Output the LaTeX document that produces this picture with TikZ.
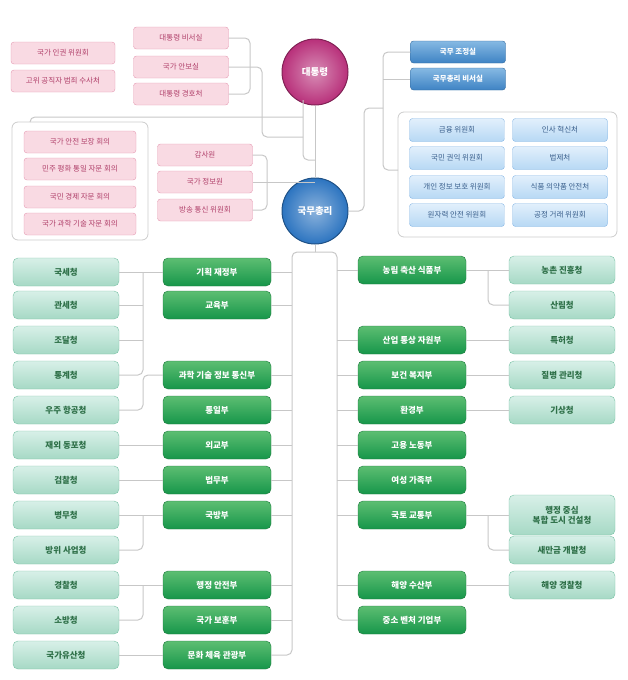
\documentclass[tikz,border=0pt]{standalone}
\usepackage{fontspec}
\setmainfont{Noto Sans CJK KR}
\usetikzlibrary{positioning}
\usetikzlibrary{calc}
\definecolor{pinkfill}{HTML}{F9DAE3}
\definecolor{pinkline}{HTML}{E49AB2}
\definecolor{pinktext}{HTML}{B0406A}
\definecolor{bluetop}{HTML}{86B9E3}
\definecolor{bluebot}{HTML}{3E83C4}
\definecolor{ltbluetop}{HTML}{E2F0FC}
\definecolor{ltbluebot}{HTML}{B7D8F4}
\definecolor{ltblueline}{HTML}{86B6E4}
\definecolor{bluetext}{HTML}{3A5F8C}
\definecolor{greentop}{HTML}{5DBE72}
\definecolor{greenbot}{HTML}{16964A}
\definecolor{greenline}{HTML}{1C7A3C}
\definecolor{mintop}{HTML}{D8F0E8}
\definecolor{minbot}{HTML}{A6D9C5}
\definecolor{minline}{HTML}{79C2A5}
\definecolor{mintext}{HTML}{2E7048}
\definecolor{presc}{HTML}{B8307A}
\definecolor{pmc}{HTML}{2C74C0}

\begin{document}
\begin{tikzpicture}[x=1pt, y=-1pt,
  font=\fontsize{7.5}{9}\selectfont,
  pinkbox/.style={draw=pinkline, fill=pinkfill, rounded corners=3pt, minimum width=95pt, minimum height=22pt, inner sep=1pt, text=pinktext},
  bluebox/.style={draw=bluebot!80!black, top color=bluetop, bottom color=bluebot, rounded corners=3pt, minimum width=95pt, minimum height=22pt, inner sep=1pt, text=white, font=\fontsize{7.5}{9}\selectfont\bfseries},
  ltbox/.style={draw=ltblueline, top color=ltbluetop, bottom color=ltbluebot, rounded corners=3pt, minimum width=95pt, minimum height=23pt, inner sep=1pt, text=bluetext},
  ministry/.style={draw=greenline, top color=greentop, bottom color=greenbot, rounded corners=5pt, minimum width=108pt, minimum height=28pt, inner sep=1pt, text=white, font=\fontsize{8.5}{10}\selectfont\bfseries},
  agency/.style={draw=minline, top color=mintop, bottom color=minbot, rounded corners=5pt, minimum width=106pt, minimum height=28pt, inner sep=1pt, align=center, text=mintext, font=\fontsize{8.5}{10}\selectfont\bfseries},
  chief/.style={circle, draw=#1!70!black, line width=1pt, minimum size=66pt, text=white, font=\fontsize{9.5}{11}\selectfont\bfseries, inner color=#1!55!white, outer color=#1},
  group/.style={draw=black!20, line width=0.8pt, rounded corners=6pt},
  link/.style={draw=black!22, line width=1pt, rounded corners=5pt}
]
\useasboundingbox (0,0) rectangle (628,680);

% heads
\node[chief=presc] (pres) at (315,72) {대통령};
\node[chief=pmc] (pm) at (315,211) {국무총리};

% office of the president
\node[pinkbox] (sec)  at (181,38) {대통령 비서실};
\node[pinkbox] (nsa)  at (181,67) {국가 안보실};
\node[pinkbox] (pss)  at (181,94) {대통령 경호처};
\node[pinkbox, minimum width=104pt] (hr)  at (63,53) {국가 인권 위원회};
\node[pinkbox, minimum width=104pt] (cio) at (63,81) {고위 공직자 범죄 수사처};

\draw[group] (12,122) rectangle (148,240);
\node[pinkbox, minimum width=112pt] (nsc) at (80,142) {국가 안전 보장 회의};
\node[pinkbox, minimum width=112pt] (puc) at (80,169) {민주 평화 통일 자문 회의};
\node[pinkbox, minimum width=112pt] (nec) at (80,197) {국민 경제 자문 회의};
\node[pinkbox, minimum width=112pt] (pst) at (80,224) {국가 과학 기술 자문 회의};

\node[pinkbox] (bai) at (205,155) {감사원};
\node[pinkbox] (nis) at (205,182) {국가 정보원};
\node[pinkbox] (kcc) at (205,210) {방송 통신 위원회};

% office of the prime minister
\node[bluebox] (opc) at (458,52) {국무 조정실};
\node[bluebox] (pms) at (458,79) {국무총리 비서실};
\draw[group] (398,112) rectangle (617,237);
\node[ltbox] (fsc) at (457,130) {금융 위원회};
\node[ltbox] (acr) at (457,158) {국민 권익 위원회};
\node[ltbox] (pip) at (457,187) {개인 정보 보호 위원회};
\node[ltbox] (nss) at (457,215) {원자력 안전 위원회};
\node[ltbox] (mpm) at (560,130) {인사 혁신처};
\node[ltbox] (mol) at (560,158) {법제처};
\node[ltbox] (mfd) at (560,187) {식품 의약품 안전처};
\node[ltbox] (ftc) at (560,215) {공정 거래 위원회};

% ministries, left
\node[ministry] (moef) at (217,272) {기획 재정부};
\node[ministry] (moe)  at (217,305) {교육부};
\node[ministry] (msit) at (217,375) {과학 기술 정보 통신부};
\node[ministry] (mou)  at (217,410) {통일부};
\node[ministry] (mofa) at (217,445) {외교부};
\node[ministry] (moj)  at (217,480) {법무부};
\node[ministry] (mnd)  at (217,515) {국방부};
\node[ministry] (mois) at (217,585) {행정 안전부};
\node[ministry] (mpva) at (217,620) {국가 보훈부};
\node[ministry] (mcst) at (217,655) {문화 체육 관광부};

% ministries, right
\node[ministry] (mafra) at (412,270) {농림 축산 식품부};
\node[ministry] (motie) at (412,340) {산업 통상 자원부};
\node[ministry] (mohw)  at (412,375) {보건 복지부};
\node[ministry] (me)    at (412,410) {환경부};
\node[ministry] (moel)  at (412,445) {고용 노동부};
\node[ministry] (mogef) at (412,480) {여성 가족부};
\node[ministry] (molit) at (412,515) {국토 교통부};
\node[ministry] (mof)   at (412,585) {해양 수산부};
\node[ministry] (mss)   at (412,620) {중소 벤처 기업부};

% agencies, left
\node[agency] (nts)  at (66,272) {국세청};
\node[agency] (kcs)  at (66,305) {관세청};
\node[agency] (pps)  at (66,340) {조달청};
\node[agency] (kos)  at (66,375) {통계청};
\node[agency] (kasa) at (66,410) {우주 항공청};
\node[agency] (oka)  at (66,445) {재외 동포청};
\node[agency] (spo)  at (66,480) {검찰청};
\node[agency] (mma)  at (66,515) {병무청};
\node[agency] (dapa) at (66,550) {방위 사업청};
\node[agency] (knpa) at (66,585) {경찰청};
\node[agency] (nfa)  at (66,620) {소방청};
\node[agency] (kha)  at (66,655) {국가유산청};

% agencies, right
\node[agency] (rda)  at (562,270) {농촌 진흥청};
\node[agency] (kfs)  at (562,305) {산림청};
\node[agency] (kipo) at (562,340) {특허청};
\node[agency] (kdca) at (562,375) {질병 관리청};
\node[agency] (kma)  at (562,410) {기상청};
\node[agency, minimum height=40pt] (naacc) at (562,515) {행정 중심\\복합 도시 건설청};
\node[agency] (sda)  at (562,550) {새만금 개발청};
\node[agency] (kcg)  at (562,585) {해양 경찰청};

% links around the heads
\draw[link] (pres) -- (pm);
\draw[link] (sec.east) -| (250,67) |- (pss.east);
\draw[link] (nsa.east) -| (262,137) -- (303,137);
\draw[link] (303,100) -- (303,160) -- (315,160);
\draw[link] (303,117) -| (30,122);
\draw[link] (bai.east) -| (267,210) -- (kcc.east);
\draw[link] (267,182) -- (nis.east);
\draw[link] (267,182) -- (315,182);
\draw[link] (pm.east) -| (364,108) -- (383,108);
\draw[link] (opc.west) -| (383,170) -- (398,170);
\draw[link] (383,79) -- (pms.west);

% trunk
\coordinate (trunkL) at (292,0);
\coordinate (trunkR) at (337,0);
\draw[link] (pm.south) -- (315,252);
\draw[link] (315,252) -| (292,655) -- (mcst.east);
\draw[link] (315,252) -| (337,620) -- (mss.west);
\foreach \m in {moef,moe,msit,mou,mofa,moj,mnd,mois,mpva}
  \draw[link] (\m.east) -- (\m.east -| trunkL);
\foreach \m in {mafra,motie,mohw,me,moel,mogef,molit,mof}
  \draw[link] (\m.west) -- (\m.west -| trunkR);

% agencies to ministries
\draw[link] (moef.west) -- (nts.east);
\draw[link] (143,272) |- (kos.east);
\draw[link] (143,305) -- (kcs.east);
\draw[link] (143,340) -- (pps.east);
\draw[link] (msit.west) -| (143,410) -- (kasa.east);
\draw[link] (mofa.west) -- (oka.east);
\draw[link] (moj.west) -- (spo.east);
\draw[link] (mnd.west) -- (mma.east);
\draw[link] (143,515) |- (dapa.east);
\draw[link] (mois.west) -- (knpa.east);
\draw[link] (143,585) |- (nfa.east);
\draw[link] (mcst.west) -- (kha.east);
\draw[link] (mafra.east) -- (rda.west);
\draw[link] (488,270) |- (kfs.west);
\draw[link] (motie.east) -- (kipo.west);
\draw[link] (mohw.east) -- (kdca.west);
\draw[link] (me.east) -- (kma.west);
\draw[link] (molit.east) -- (naacc.west);
\draw[link] (488,515) |- (sda.west);
\draw[link] (mof.east) -- (kcg.west);
\end{tikzpicture}
\end{document}
